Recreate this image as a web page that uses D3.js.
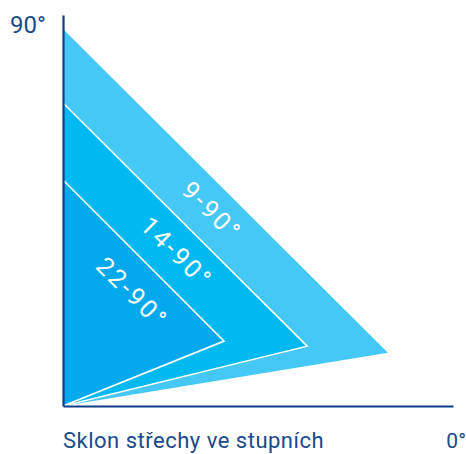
<!DOCTYPE html>
<html>
<head>
<meta charset="utf-8">
<script src="https://cdn.jsdelivr.net/npm/d3@7"></script>
<style>
  html, body { margin: 0; padding: 0; background: #fff; }
  svg { display: block; }
  text { font-family: Roboto, "DejaVu Sans", sans-serif; }
</style>
</head>
<body>
<svg id="chart" width="466" height="454"></svg>
<script>
// ---- data (in chart units: 0..100 on both axes) ----
const categories = ["9-90°", "14-90°", "22-90°"];
const minSlope = [9, 14, 22];
const topY = [96.4, 77.5, 57.8];
const tipX = [83.3, 62.6, 41.3];
const tipY = [13.6, 15.3, 16.6];
const yTickLabels = ["90°"];
const xTickLabels = ["0°"];
const axisTitle = "Sklon střechy ve stupních";

// ---- styles ----
const fills = ["#45c8f5", "#00b9f1", "#04a8ec"];
const navy = "#0f3d87";
const textNavy = "#1a4a8c";

const svg = d3.select("#chart");
const x = d3.scaleLinear().domain([0, 100]).range([63, 453]);
const y = d3.scaleLinear().domain([0, 100]).range([406, 15]);

const data = categories.map((c, i) => ({
  label: c, slope: minSlope[i], top: topY[i], tx: tipX[i], ty: tipY[i], i
}));

// triangles
svg.append("g").selectAll("path").data(data).join("path")
  .attr("d", d => `M${x(0)},${y(d.top)}L${x(d.tx)},${y(d.ty)}L${x(0)},${y(0)}Z`)
  .attr("fill", d => fills[d.i])
  .attr("stroke", d => d.i > 0 ? "#fff" : "none")
  .attr("stroke-width", 1.6)
  .attr("stroke-linejoin", "miter");

// labels along the sloped edge
const tAlong = [0.51, 0.54, 0.565];
const perp = [24, 26, 31];
svg.append("g").selectAll("text").data(data).join("text")
  .attr("transform", d => {
    const x0 = x(0), y0 = y(d.top), x1 = x(d.tx), y1 = y(d.ty);
    const t = tAlong[d.i];
    const px = x0 + (x1 - x0) * t, py = y0 + (y1 - y0) * t;
    const len = Math.hypot(x1 - x0, y1 - y0);
    const nx = -(y1 - y0) / len, ny = (x1 - x0) / len; // inward normal
    const ang = Math.atan2(y1 - y0, x1 - x0) * 180 / Math.PI;
    return `translate(${px + nx * perp[d.i]},${py + ny * perp[d.i]}) rotate(${ang})`;
  })
  .attr("text-anchor", "middle")
  .attr("dominant-baseline", "central")
  .attr("fill", "#fff")
  .attr("font-size", 25)
  .attr("letter-spacing", 2.8)
  .text(d => d.label);

// axes
const yAxis = d3.axisLeft(y).ticks(0).tickSizeOuter(0);
const xAxis = d3.axisBottom(x).ticks(0).tickSizeOuter(0);
svg.append("g").attr("transform", `translate(${x(0)},0)`).call(yAxis)
  .call(g => g.select(".domain").attr("stroke", navy).attr("stroke-width", 2.2));
svg.append("g").attr("transform", `translate(0,${y(0)})`).call(xAxis)
  .call(g => g.select(".domain").attr("stroke", navy).attr("stroke-width", 2.2));

// end labels
svg.append("text").attr("x", x(0) - 17).attr("y", 33)
  .attr("text-anchor", "end").attr("fill", textNavy).attr("font-size", 24)
  .text(yTickLabels[0]);
svg.append("text").attr("x", 466).attr("y", 448)
  .attr("text-anchor", "end").attr("fill", textNavy).attr("font-size", 21)
  .text(xTickLabels[0]);
svg.append("text").attr("x", x(0)).attr("y", 448)
  .attr("fill", textNavy).attr("font-size", 22).attr("letter-spacing", 0.5)
  .text(axisTitle);
</script>
</body>
</html>
